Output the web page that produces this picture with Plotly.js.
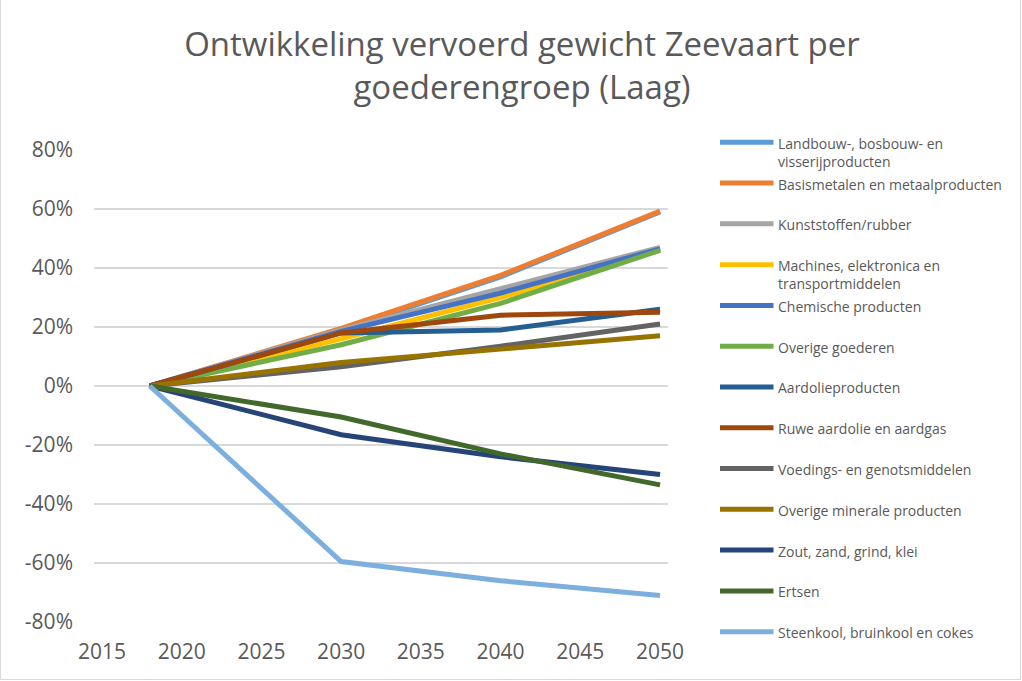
<!DOCTYPE html>
<html>
<head>
<meta charset="utf-8">
<script src="https://cdn.plot.ly/plotly-3.0.1.min.js"></script>
<style>html,body{margin:0;padding:0;background:#fff;}#chart{width:1022px;height:681px;}</style>
</head>
<body>
<div id="chart"></div>
<script>
const years = [2018, 2030, 2040, 2050];
const seriesNames = [
  "Landbouw-, bosbouw- en<br>visserijproducten",
  "Basismetalen en metaalproducten",
  "Kunststoffen/rubber",
  "Machines, elektronica en<br>transportmiddelen",
  "Chemische producten",
  "Overige goederen",
  "Aardolieproducten",
  "Ruwe aardolie en aardgas",
  "Voedings- en genotsmiddelen",
  "Overige minerale producten",
  "Zout, zand, grind, klei",
  "Ertsen",
  "Steenkool, bruinkool en cokes"
];
const seriesColors = ["#5B9BD5","#ED7D31","#A5A5A5","#FFC000","#4472C4","#70AD47","#255E91","#9E480E","#636363","#997300","#264478","#43682B","#7CAFDD"];
const landbouw     = [0, 0.19, 0.37, 0.59];
const basismetalen = [0, 0.195, 0.375, 0.593];
const kunststoffen = [0, 0.19, 0.33, 0.47];
const machines     = [0, 0.16, 0.30, 0.46];
const chemische    = [0, 0.185, 0.315, 0.465];
const overigeGoed  = [0, 0.14, 0.28, 0.46];
const aardolieProd = [0, 0.18, 0.19, 0.26];
const ruweAardolie = [0, 0.18, 0.24, 0.25];
const voedings     = [0, 0.065, 0.135, 0.21];
const overigeMin   = [0, 0.08, 0.125, 0.17];
const zout         = [0, -0.165, -0.24, -0.30];
const ertsen       = [0, -0.105, -0.23, -0.335];
const steenkool    = [0, -0.595, -0.66, -0.71];
const seriesValues = [landbouw, basismetalen, kunststoffen, machines, chemische, overigeGoed, aardolieProd, ruweAardolie, voedings, overigeMin, zout, ertsen, steenkool];
const yTicks = [-0.8,-0.6,-0.4,-0.2,0,0.2,0.4,0.6,0.8];
const yTickText = ["-80%","-60%","-40%","-20%","0%","20%","40%","60%","80%"];
const xTicks = [2015,2020,2025,2030,2035,2040,2045,2050];

const font = "'Open Sans', sans-serif";
const grey = "#595959";

// plot area geometry (pixels)
const W = 1022, H = 681, L = 94, R = 668, T = 150, B = 622;
const pw = R - L, ph = B - T;
const px2x = p => (p - L) / pw;
const py2y = p => (B - p) / ph;

const traces = seriesNames.map((n,i)=>({
  type:'scatter', mode:'lines', x: years, y: seriesValues[i], name: n,
  line:{color: seriesColors[i], width:5},
  showlegend:false, hoverinfo:'skip'
}));

// legend drawn as shapes + annotations from the series arrays
const legRow0 = 142.3, legStep = 40.78;
const legShapes = [], legAnn = [];
seriesNames.forEach((n,i)=>{
  const yc = legRow0 + i*legStep;
  legShapes.push({type:'line', xref:'paper', yref:'paper', x0:px2x(720), x1:px2x(773.5), y0:py2y(yc), y1:py2y(yc), line:{color:seriesColors[i], width:5}});
  legAnn.push({xref:'paper', yref:'paper', x:px2x(776), y:py2y(yc-10.5), xanchor:'left', yanchor:'top', align:'left', showarrow:false, text:n, font:{family:font, size:14, color:grey}});
});

const layout = {
  width:W, height:H,
  margin:{l:L, r:W-R, t:T, b:H-B},
  paper_bgcolor:'#fff', plot_bgcolor:'#fff',
  font:{family:font, color:grey},
  title:{text:"Ontwikkeling vervoerd gewicht Zeevaart per<br>goederengroep (Laag)", font:{family:font, size:33, color:grey}, xref:'container', x:522/W, xanchor:'center', yref:'container', y:0.918, yanchor:'top'},
  xaxis:{range:[2014.5,2050.5], tickvals:xTicks, ticktext:xTicks.map(String), showgrid:false, zeroline:false, showline:false, ticks:'', ticklabelstandoff:15, tickfont:{size:21, color:grey, family:font}, fixedrange:true},
  yaxis:{range:[-0.8,0.8], tickvals:yTicks, ticktext:yTickText, showgrid:true, gridcolor:'#D9D9D9', gridwidth:1.3, zeroline:false, showline:false, ticks:'', ticklabelstandoff:20, tickfont:{size:21, color:grey, family:font}, fixedrange:true},
  showlegend:false,
  annotations: legAnn,
  shapes:[{type:'rect', xref:'paper', yref:'paper', x0:px2x(0.5), x1:px2x(1020.5), y0:py2y(679.5), y1:py2y(-5), line:{color:'#D9D9D9', width:1}, fillcolor:'rgba(0,0,0,0)', layer:'below'}].concat(legShapes)
};
Plotly.newPlot('chart', traces, layout, {displayModeBar:false, staticPlot:true});
</script>
</body>
</html>
